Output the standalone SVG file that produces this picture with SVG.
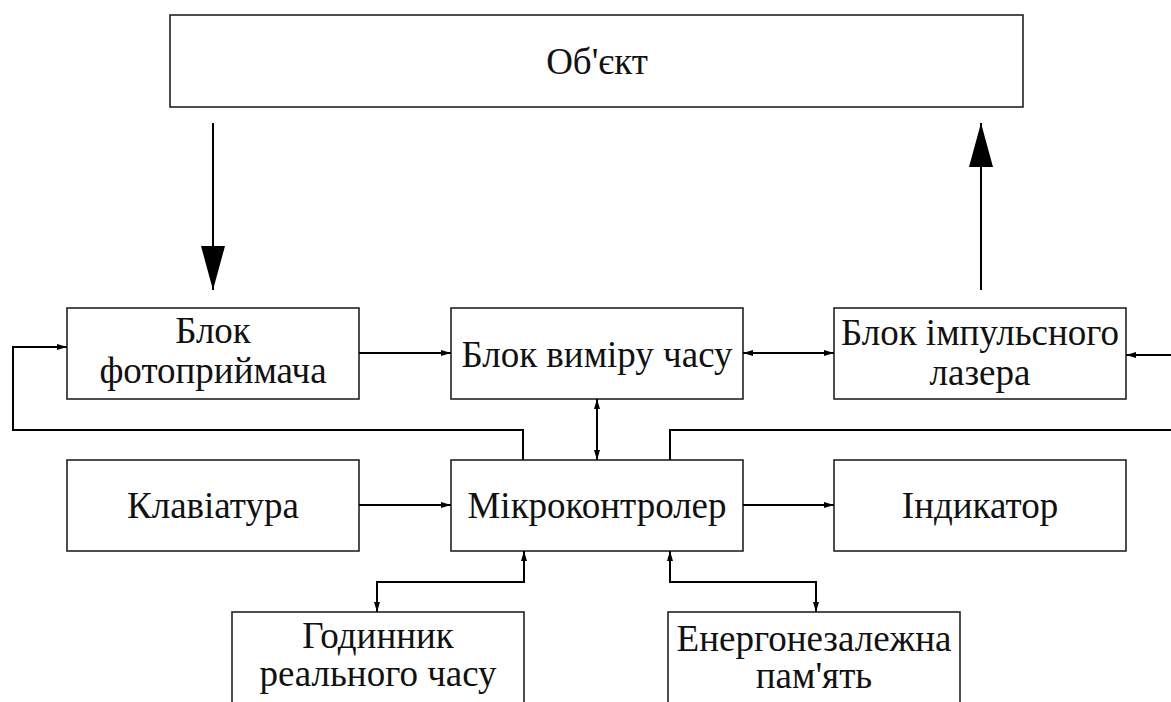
<svg xmlns="http://www.w3.org/2000/svg" width="1171" height="702" viewBox="0 0 1171 702">
<style>
.box{fill:#fff;stroke:#222;stroke-width:1.6}
.t{font-family:"Liberation Serif","Times New Roman","DejaVu Serif",serif;font-size:37px;fill:#111;text-anchor:middle}
.c{fill:none;stroke:#000;stroke-width:2}
</style>
<defs>
<marker id="a" viewBox="0 0 10 6" refX="10" refY="3" markerWidth="10" markerHeight="6" markerUnits="userSpaceOnUse" orient="auto-start-reverse"><path d="M0,0 L10,3 L0,6 Z" fill="#000"/></marker>
<marker id="big" viewBox="0 0 44 24" refX="44" refY="12" markerWidth="44" markerHeight="24" markerUnits="userSpaceOnUse" orient="auto"><path d="M0,0 L44,12 L0,24 Z" fill="#000"/></marker>
</defs>
<rect width="1171" height="702" fill="#fff"/>
<g id="object"><rect class="box" x="170" y="15" width="853" height="92" stroke-width="2.2"/><text class="t" x="597" y="74">Об'єкт</text></g>
<g id="photo"><rect class="box" x="67" y="308" width="292" height="91"/><text class="t" x="213" y="343">Блок</text><text class="t" x="213" y="383">фотоприймача</text></g>
<g id="timer"><rect class="box" x="451" y="308" width="292" height="91"/><text class="t" x="597" y="367">Блок виміру часу</text></g>
<g id="laser"><rect class="box" x="834" y="308" width="292" height="91"/><text class="t" x="980" y="345">Блок імпульсного</text><text class="t" x="980" y="385">лазера</text></g>
<g id="keyboard"><rect class="box" x="67" y="460" width="292" height="91"/><text class="t" x="213" y="518">Клавіатура</text></g>
<g id="mcu"><rect class="box" x="451" y="460" width="292" height="91"/><text class="t" x="597" y="518">Мікроконтролер</text></g>
<g id="indicator"><rect class="box" x="834" y="460" width="292" height="91"/><text class="t" x="980" y="518">Індикатор</text></g>
<g id="rtc"><rect class="box" x="232" y="612" width="292" height="100"/><text class="t" x="378" y="648">Годинник</text><text class="t" x="378" y="686">реального часу</text></g>
<g id="eeprom"><rect class="box" x="668" y="612" width="292" height="100"/><text class="t" x="814" y="651">Енергонезалежна</text><text class="t" x="814" y="688">пам'ять</text></g>
<g id="connectors">
<line class="c" x1="213" y1="123" x2="213" y2="290" marker-end="url(#big)"/>
<line class="c" x1="981" y1="290" x2="981" y2="123" marker-end="url(#big)"/>
<line class="c" x1="359" y1="353" x2="451" y2="353" marker-end="url(#a)"/>
<line class="c" x1="743" y1="353" x2="834" y2="353" marker-start="url(#a)" marker-end="url(#a)"/>
<line class="c" x1="1175" y1="355" x2="1126" y2="355" marker-end="url(#a)"/>
<line class="c" x1="597" y1="399" x2="597" y2="460" marker-start="url(#a)" marker-end="url(#a)"/>
<path class="c" d="M523,460 V430 H13 V347 H67" marker-end="url(#a)"/>
<path class="c" d="M670,460 V430 H1175"/>
<line class="c" x1="359" y1="505" x2="451" y2="505" marker-end="url(#a)"/>
<line class="c" x1="743" y1="505" x2="834" y2="505" marker-end="url(#a)"/>
<path class="c" d="M377,612 V582 H524 V551" marker-start="url(#a)" marker-end="url(#a)"/>
<path class="c" d="M816,612 V582 H670 V551" marker-start="url(#a)" marker-end="url(#a)"/>
</g>
</svg>
